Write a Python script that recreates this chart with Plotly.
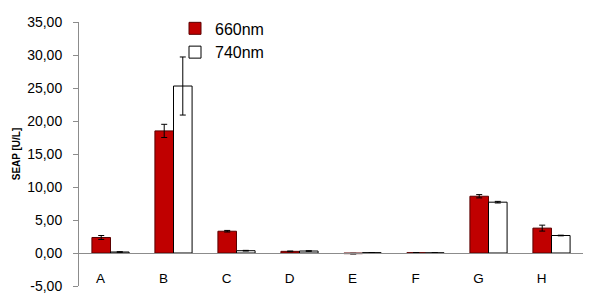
import plotly.graph_objects as go

categories = ["A", "B", "C", "D", "E", "F", "G", "H"]
s660 = [2.35, 18.5, 3.3, 0.25, -0.1, 0.05, 8.6, 3.77]
e660 = [0.3, 1.0, 0.12, 0.05, 0.05, 0.02, 0.25, 0.45]
s740 = [0.15, 25.3, 0.35, 0.3, 0.05, 0.02, 7.7, 2.65]
e740 = [0.05, 4.4, 0.05, 0.05, 0.02, 0.01, 0.12, 0.05]
y_min, y_max, y_step = -5, 35, 5

tick_vals = list(range(y_min, y_max + 1, y_step))
tick_text = [f"{v:.2f}".replace(".", ",") for v in tick_vals]

fig = go.Figure()
fig.add_trace(go.Bar(
    x=categories, y=s660, name="660nm",
    marker=dict(color="#C00000", line=dict(color="#5a0000", width=1)),
    error_y=dict(type="data", array=e660, color="black", thickness=1, width=3),
))
fig.add_trace(go.Bar(
    x=categories, y=s740, name="740nm",
    marker=dict(color="white", line=dict(color="black", width=1)),
    error_y=dict(type="data", array=e740, color="black", thickness=1, width=3),
))

font_family = "Liberation Sans, Arial, sans-serif"
fig.update_layout(
    width=590, height=301,
    margin=dict(l=79, r=7, t=22, b=12),
    paper_bgcolor="white", plot_bgcolor="white",
    barmode="group", bargap=0.41, bargroupgap=0,
    font=dict(family=font_family, size=13, color="black"),
    showlegend=True,
    legend=dict(
        x=(175 - 79) / (590 - 79 - 7), xanchor="left",
        y=1.04, yanchor="top",
        bgcolor="rgba(0,0,0,0)",
        font=dict(size=16, family=font_family),
        tracegroupgap=0, itemwidth=30,
    ),
    xaxis=dict(
        anchor="free", position=(0 - y_min) / (y_max - y_min),
        showline=True, linecolor="#8c8c8c", linewidth=1,
        ticks="", ticklabelstandoff=13, ticklabelshift=-10,
        showgrid=False, zeroline=False,
        tickfont=dict(size=13.5),
    ),
    yaxis=dict(
        range=[y_min, y_max], tickvals=tick_vals, ticktext=tick_text,
        showline=True, linecolor="#8c8c8c", linewidth=1,
        ticks="outside", ticklen=5, tickcolor="#8c8c8c",
        ticklabelstandoff=8,
        showgrid=False, zeroline=False,
        tickfont=dict(size=14),
        title=dict(text="<b>SEAP [U/L]</b>", font=dict(size=10), standoff=4),
    ),
)

fig.write_html("out.html")
